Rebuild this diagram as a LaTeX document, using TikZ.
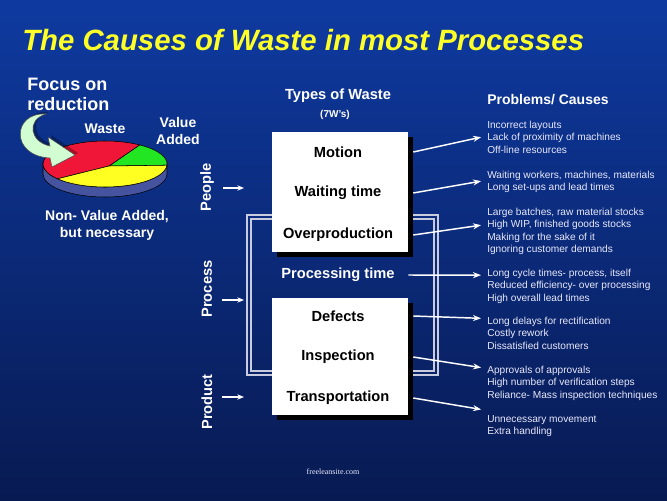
\documentclass[tikz,border=0pt]{standalone}
\usepackage{fontspec}
\setmainfont{Liberation Sans}
\newfontfamily\sitefont{Liberation Serif}
\usetikzlibrary{arrows.meta,calc}

\definecolor{slidetop}{RGB}{14,58,160}
\definecolor{slidemid}{RGB}{11,50,146}
\definecolor{slidebottom}{RGB}{8,26,82}
\definecolor{titleyellow}{RGB}{255,255,40}
\definecolor{piered}{RGB}{240,22,56}
\definecolor{piegreen}{RGB}{34,230,34}
\definecolor{pieyellow}{RGB}{255,255,34}
\definecolor{pieside}{RGB}{70,84,160}
\definecolor{focusgreen}{RGB}{210,252,210}
\definecolor{framegrey}{RGB}{200,204,222}
\definecolor{causetext}{RGB}{232,232,250}

\tikzset{
    heading/.style={
        text=white,
        font=\bfseries\fontsize{11}{13}\selectfont,
        inner sep=0pt},
    sideways/.style={
        heading,
        rotate=90},
    wastebox/.style={
        fill=white,
        draw=none,
        minimum width=102pt,
        inner sep=0pt},
    boxshadow/.style={
        fill=black,
        draw=none,
        minimum width=102pt,
        inner sep=0pt},
    wastelabel/.style={
        font=\bfseries\fontsize{11}{13}\selectfont,
        inner sep=0pt},
    causes/.style={
        text=causetext,
        font=\fontsize{7.6}{9.15}\selectfont,
        align=left,
        anchor=north west,
        inner sep=0pt},
    causeline/.style={
        draw=white,
        line width=1.1pt,
        -{Stealth[length=6pt,width=4.5pt]},
        shorten >=4.5pt},
    inarrow/.style={
        draw=white,
        line width=1pt,
        -{Stealth[length=5pt,width=4pt]},
        shorten <=7pt}
}

\begin{document}
\begin{tikzpicture}[x=0.75pt, y=-0.75pt]

\shade [top color=slidetop, middle color=slidemid, bottom color=slidebottom]
    (0,0) rectangle (667,500);
\useasboundingbox (0,0) rectangle (667,500);

\node [anchor=west, text=titleyellow, inner sep=0pt,
    font=\bfseries\itshape\fontsize{22}{26}\selectfont] (title) at (22,40)
    {The Causes of Waste in most Processes};

% pie chart
\begin{scope}[shift={(105,164)}, yscale=-1]
\path [fill=pieside, draw=black, thin]
    (-62,0) -- (-62,-10) arc (180:360:62 and 23) -- (62,0)
    arc (0:-180:62 and 23) -- cycle;
\foreach \from/\to/\col in {-3/56/piegreen, 56/220/piered, 220/357/pieyellow}{
    \path [fill=\col, draw=black, thin]
        (4,-2) -- (\from:62 and 23) arc (\from:\to:62 and 23) -- cycle;
}
\end{scope}

% focus arrow
\path [fill=black, opacity=.3]
    (49,112) .. controls (15,110) and (13,154) .. (53,156) -- (55,165) -- (78,153)
    -- (51,135) -- (53,144) .. controls (33,140) and (29,118) .. (49,112) -- cycle;
\path [fill=focusgreen, draw=black!70, thin]
    (46,114) .. controls (12,112) and (10,156) .. (50,158) -- (52,167) -- (75,155)
    -- (48,137) -- (50,146) .. controls (30,142) and (26,120) .. (46,114) -- cycle;

\node [heading, font=\bfseries\fontsize{13.5}{15}\selectfont, align=left, anchor=west]
    (focus) at (27,94) {Focus on\\reduction};
\node [heading, font=\bfseries\fontsize{10.5}{12}\selectfont] (waste) at (105,129) {Waste};
\node [heading, font=\bfseries\fontsize{10.5}{12.75}\selectfont, align=center]
    (valueadded) at (178,131) {Value\\Added};
\node [heading, font=\bfseries\fontsize{10.5}{12.75}\selectfont, align=center]
    (nonvalue) at (107,225) {Non- Value Added,\\but necessary};

% types of waste
\node [heading] (types) at (338,96) {Types of Waste};
\node [heading, font=\bfseries\fontsize{7.5}{9}\selectfont] (sevenw) at (335,115) {(7W's)};

\draw [framegrey, line width=1.2pt] (247,215) rectangle (438,375);
\draw [framegrey, line width=1.2pt] (251,219) rectangle (434,371);

\foreach \b/\cy/\h in {A/192/120, B/356.5/117}{
    \node [boxshadow, minimum height=\h*0.75pt] (shadow\b) at (345,\cy+5) {};
    \node [wastebox, minimum height=\h*0.75pt] (box\b) at (340,\cy) {};
}

\foreach \n/\y/\t in {motion/152/Motion, waiting/193/Waiting time,
    overproduction/235/Overproduction, defects/316/Defects,
    inspection/357/Inspection, transportation/398/Transportation}{
    \node [wastelabel] (\n) at (338,\y) {\t};
}
\node [wastelabel, text=white] (processing) at (338,275) {Processing time};

% people / process / product
\foreach \n/\t/\y/\ay in {people/People/187/188, process/Process/289/300,
    product/Product/402/397}{
    \node [sideways] (\n) at (207,\y) {\t};
    \coordinate (\n-in) at (244,\ay);
    \draw [inarrow] (\n.south |- \n-in) -- (\n-in);
}

% problems / causes
\node [heading, font=\bfseries\fontsize{10.5}{12}\selectfont, anchor=west]
    (problems) at (487,100) {Problems/ Causes};
\node [causes] (causeA) at (487,121)
    {Incorrect layouts\\Lack of proximity of machines\\Off-line resources};
\node [causes] (causeB) at (487,171)
    {Waiting workers, machines, materials\\Long set-ups and lead times};
\node [causes] (causeC) at (487,208)
    {Large batches, raw material stocks\\High WIP, finished goods stocks\\Making for the sake of it\\Ignoring customer demands};
\node [causes] (causeD) at (487,269)
    {Long cycle times- process, itself\\Reduced efficiency- over processing\\High overall lead times};
\node [causes] (causeE) at (487,317)
    {Long delays for rectification\\Costly rework\\Dissatisfied customers};
\node [causes] (causeF) at (487,366)
    {Approvals of approvals\\High number of verification steps\\Reliance- Mass inspection techniques};
\node [causes] (causeG) at (487,415)
    {Unnecessary movement\\Extra handling};

\draw [causeline] (motion -| shadowA.east) -- ([yshift=1pt]causeA.west);
\draw [causeline] (waiting -| shadowA.east) -- ([yshift=1.5pt]causeB.west);
\draw [causeline] (overproduction -| shadowA.east) -- ([yshift=5.25pt]causeC.west);
\draw [causeline] (processing -| boxA.east) -- ([yshift=8.25pt]causeD.west);
\draw [causeline] (defects -| shadowB.east) -- ([yshift=11pt]causeE.west);
\draw [causeline] (inspection -| shadowB.east) -- ([yshift=11pt]causeF.west);
\draw [causeline] (transportation -| shadowB.east) -- ([yshift=11.6pt]causeG.west);

\node [text=causetext, font=\sitefont\fontsize{6}{7}\selectfont, inner sep=0pt]
    (site) at (333,472) {freeleansite.com};

\end{tikzpicture}
\end{document}
